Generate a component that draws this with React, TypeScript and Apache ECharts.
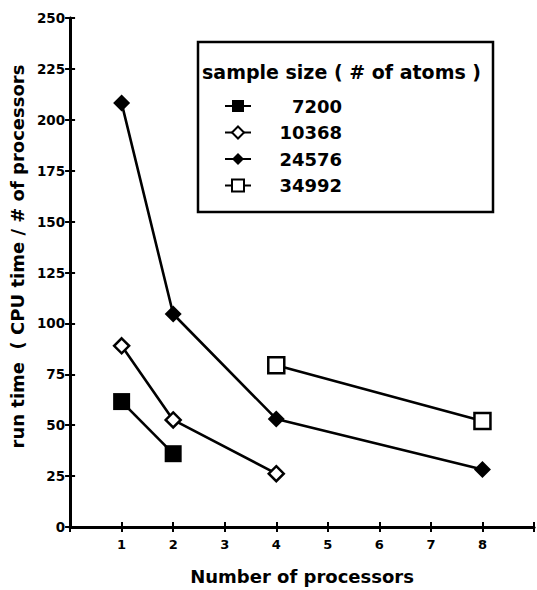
import React, { useEffect, useRef } from "react";
import * as echarts from "echarts";

const seriesNames = ["7200", "10368", "24576", "34992"];
const procs7200 = [1, 2];
const time7200 = [61.6, 36.0];
const procs10368 = [1, 2, 4];
const time10368 = [89.0, 52.6, 26.2];
const procs24576 = [1, 2, 4, 8];
const time24576 = [208.2, 104.6, 53.1, 28.2];
const procs34992 = [4, 8];
const time34992 = [79.4, 52.1];
const xTickLabels = ["1", "2", "3", "4", "5", "6", "7", "8"];

const FONT = "DejaVu Sans";

function pairs(xs: number[], ys: number[]) {
  return xs.map((x, i) => [x, ys[i]]);
}

export default function App() {
  const ref = useRef<HTMLDivElement>(null);
  useEffect(() => {
    if (!ref.current) return;
    const chart = echarts.init(ref.current, undefined, { renderer: "svg" });
    const lineStyle = { color: "#000", width: 2.6 };
    const base = {
      type: "line" as const,
      lineStyle,
      showSymbol: true,
      z: 3,
    };
    chart.setOption({
      animation: false,
      backgroundColor: "#fff",
      grid: { left: 64, right: 3, top: 18, bottom: 61, containLabel: false },
      xAxis: [
        {
          type: "value",
          min: 0,
          max: 9,
          interval: 1,
          name: "Number of processors",
          nameLocation: "middle",
          nameGap: 40,
          nameTextStyle: { fontFamily: FONT, fontWeight: "bold", fontSize: 18, color: "#000" },
          axisLine: { show: true, lineStyle: { color: "#000", width: 3 } },
          axisTick: { show: true, inside: true, length: 5, lineStyle: { color: "#000", width: 2 } },
          axisLabel: {
            margin: 11,
            fontFamily: FONT,
            fontWeight: "bold",
            fontSize: 13,
            color: "#000",
            formatter: (v: number) => (v >= 1 && v <= 8 ? xTickLabels[v - 1] : ""),
          },
          splitLine: { show: false },
        },
        {
          type: "value",
          position: "top",
          min: 0,
          max: 9,
          interval: 1,
          axisLine: { show: true, lineStyle: { color: "#000", width: 2.5 } },
          axisTick: { show: true, inside: true, length: 5, lineStyle: { color: "#000", width: 2 } },
          axisLabel: { show: false },
          splitLine: { show: false },
        },
      ],
      yAxis: [
        {
          type: "value",
          min: 0,
          max: 250,
          interval: 25,
          name: "run time  ( CPU time / # of processors",
          nameLocation: "middle",
          nameGap: 40,
          nameRotate: 90,
          nameTextStyle: { fontFamily: FONT, fontWeight: "bold", fontSize: 18, color: "#000", padding: [0, 0, 0, 32] },
          axisLine: { show: true, lineStyle: { color: "#000", width: 3 } },
          axisTick: { show: true, inside: true, length: 5, lineStyle: { color: "#000", width: 2 } },
          axisLabel: { margin: 5, fontFamily: FONT, fontWeight: "bold", fontSize: 13.5, color: "#000" },
          splitLine: { show: false },
        },
        {
          type: "value",
          position: "right",
          min: 0,
          max: 250,
          interval: 25,
          axisLine: { show: true, lineStyle: { color: "#000", width: 2.5 } },
          axisTick: { show: true, inside: true, length: 5, lineStyle: { color: "#000", width: 2 } },
          axisLabel: { show: false },
          splitLine: { show: false },
        },
      ],
      legend: {
        orient: "vertical",
        left: 219,
        top: 92,
        itemWidth: 26,
        itemHeight: 15,
        itemGap: 8.5,
        data: seriesNames,
        formatter: (name: string) => `{v|${name}}`,
        textStyle: {
          color: "#000",
          rich: {
            v: {
              fontFamily: FONT,
              fontWeight: "bold",
              fontSize: 18,
              lineHeight: 19,
              color: "#000",
              width: 86,
              align: "right",
            },
          },
        },
      },
      graphic: [
        {
          type: "rect",
          shape: { x: 198, y: 42, width: 295, height: 170 },
          style: { fill: "none", stroke: "#000", lineWidth: 2.5 },
          z: 10,
        },
        {
          type: "text",
          x: 202,
          y: 72,
          style: {
            text: "sample size ( # of atoms )",
            fontFamily: FONT,
            fontWeight: "bold",
            fontSize: 19,
            fill: "#000",
            textVerticalAlign: "middle",
          },
          z: 10,
        },
      ],
      series: [
        {
          ...base,
          name: seriesNames[0],
          data: pairs(procs7200, time7200),
          symbol: "rect",
          symbolSize: 17,
          itemStyle: { color: "#000" },
        },
        {
          ...base,
          name: seriesNames[1],
          data: pairs(procs10368, time10368),
          symbol: "diamond",
          symbolSize: 15,
          itemStyle: { color: "#fff", borderColor: "#000", borderWidth: 2.5 },
        },
        {
          ...base,
          name: seriesNames[2],
          data: pairs(procs24576, time24576),
          symbol: "diamond",
          symbolSize: 17,
          itemStyle: { color: "#000" },
        },
        {
          ...base,
          name: seriesNames[3],
          data: pairs(procs34992, time34992),
          symbol: "rect",
          symbolSize: 16,
          itemStyle: { color: "#fff", borderColor: "#000", borderWidth: 2.5 },
        },
      ],
    });
    return () => chart.dispose();
  }, []);
  return <div ref={ref} style={{ width: 537, height: 590, position: "absolute", left: 0, top: 0 }} />;
}
